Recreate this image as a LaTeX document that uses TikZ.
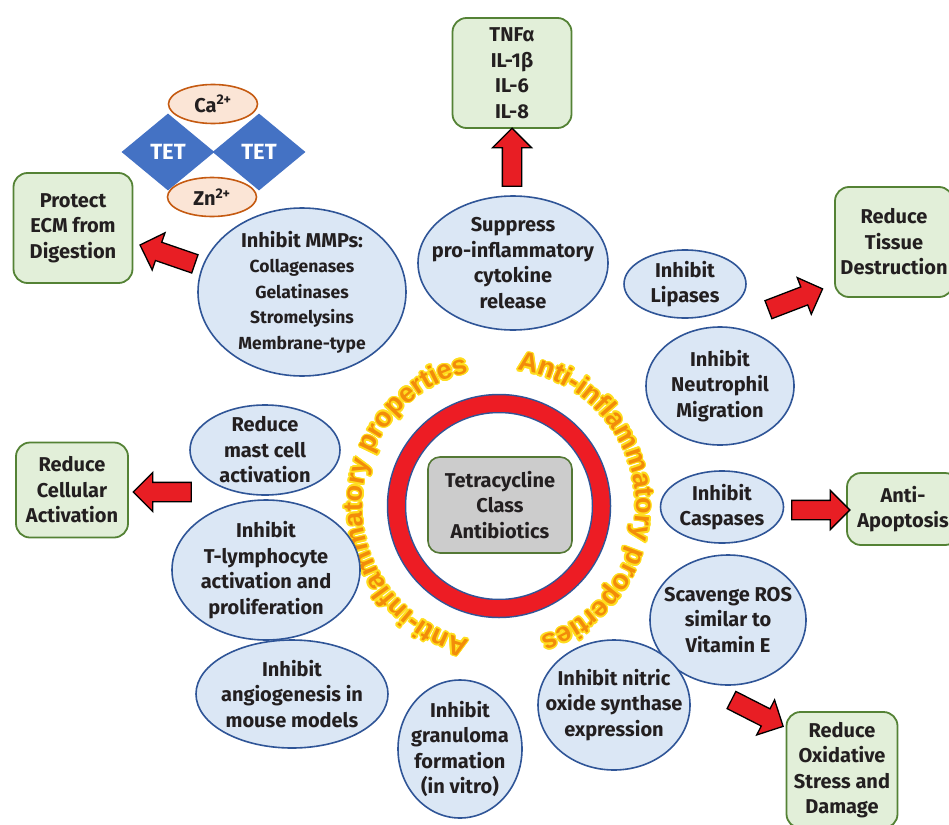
\documentclass[tikz,border=0pt]{standalone}
\usepackage{fontspec}
\setmainfont{Fira Sans}
\newfontfamily\ringfont{Liberation Sans}
\usepackage{xcolor}
\definecolor{boxfill}{RGB}{226,239,217}
\definecolor{boxline}{RGB}{84,130,53}
\definecolor{bubblefill}{RGB}{219,231,245}
\definecolor{bubbleline}{RGB}{47,85,151}
\definecolor{tetblue}{RGB}{68,114,196}
\definecolor{ionfill}{RGB}{251,229,214}
\definecolor{ionline}{RGB}{197,90,17}
\definecolor{arrowred}{RGB}{232,30,36}
\definecolor{ringred}{RGB}{237,28,36}
\definecolor{ringblue}{RGB}{47,85,151}
\definecolor{corefill}{RGB}{204,204,204}
\definecolor{coreline}{RGB}{84,120,53}
\definecolor{inkdark}{RGB}{35,31,32}
\definecolor{ringorange}{RGB}{242,140,10}
\definecolor{glowyellow}{RGB}{255,221,30}
\usetikzlibrary{shapes.geometric,shapes.arrows,decorations.text}
\newcommand{\boxfont}{\bfseries\fontsize{20}{25.5}\selectfont}
\newcommand{\listfont}{\bfseries\fontsize{17.5}{22.5}\selectfont}
\newcommand{\ringstyle}{\ringfont\bfseries\fontsize{27}{27}\selectfont}

\begin{document}
\begin{tikzpicture}[x=1pt, y=-1pt,
  every node/.style={text=inkdark},
  outcome/.style={draw=boxline, fill=boxfill, line width=1.8pt, rounded corners=14pt, inner sep=2pt, align=center, font=\boxfont},
  bubble/.style={ellipse, draw=bubbleline, fill=bubblefill, line width=1.6pt, inner sep=0pt},
  bubbletext/.style={align=center, font=\boxfont, inner sep=0pt},
  ion/.style={ellipse, draw=ionline, fill=ionfill, line width=1.6pt, inner sep=0pt, minimum width=89, minimum height=39, font=\boxfont},
  tet/.style={diamond, fill=tetblue, inner sep=0pt, minimum width=93, minimum height=77, text=white, font=\bfseries\fontsize{22}{22}\selectfont},
  fatarrow/.style={single arrow, draw=black, fill=arrowred, line width=1.3pt, inner xsep=0pt, inner ysep=9pt, single arrow head extend=10pt, minimum height=58}]
  \useasboundingbox (0,0) rectangle (949,824);
  \clip (0,0) rectangle (949,824);

  %--- Centre ---
  \node[circle, draw=ringblue, line width=19.5pt, minimum size=205, inner sep=0pt] (ring) at (499,506) {};
  \draw[ringred, line width=16.5pt] (ring.center) circle[radius=102.5];
  \node[draw=coreline, fill=corefill, line width=1.6pt, rounded corners=12pt, minimum width=144, minimum height=96, align=center, font=\boxfont] (tetracycline) at (500,505) {Tetracycline\\Class\\Antibiotics};

  % curved captions (y up again inside), yellow copies first for the glow
  \begin{scope}[shift={(ring.center)}, x=1pt, y=1pt]
    \foreach \a in {0,30,...,330} {
      \begin{scope}[shift={(\a:1.6)}]
        \path[decorate, decoration={text along path, text={|\ringstyle\color{glowyellow}|Anti-inflammatory properties}, text align=center}]
          (270:137) arc[start angle=270, end angle=90, radius=137];
        \path[decorate, decoration={text along path, text={|\ringstyle\color{glowyellow}|Anti-inflammatory properties}, text align=center}]
          (95:137) arc[start angle=95, end angle=-85, radius=137];
      \end{scope}
    }
    \path[decorate, decoration={text along path, text={|\ringstyle\color{ringorange}|Anti-inflammatory properties}, text align=center}]
      (270:137) arc[start angle=270, end angle=90, radius=137];
    \path[decorate, decoration={text along path, text={|\ringstyle\color{ringorange}|Anti-inflammatory properties}, text align=center}]
      (95:137) arc[start angle=95, end angle=-85, radius=137];
  \end{scope}

  %--- Chelation ---
  \node[ion] (calcium) at (213,104) {Ca\textsuperscript{2+}};
  \node[tet] (tetleft) at (168,152) {TET};
  \node[tet] (tetright) at (259,152) {TET};
  \node[ion] (zinc) at (212,197) {Zn\textsuperscript{2+}};

  %--- Properties ---
  \node[bubble, minimum width=190, minimum height=134] (suppress) at (513,263) {};
  \node[bubbletext] (suppresstext) at (suppress) {Suppress\\pro-inflammatory\\cytokine\\release};
  \node[bubble, minimum width=208, minimum height=168] (mmp) at (302,292) {};
  \node[bubbletext] (mmptext) at (mmp) {Inhibit MMPs:\\\listfont Collagenases\\\listfont Gelatinases\\\listfont Stromelysins\\\listfont Membrane-type};
  \node[bubble, minimum width=122, minimum height=68] (lipases) at (685,284) {};
  \node[bubbletext] (lipasestext) at (lipases) {Inhibit\\Lipases};
  \node[bubble, minimum width=148, minimum height=118] (neutrophil) at (720,386) {};
  \node[bubbletext] (neutrophiltext) at (neutrophil) {Inhibit\\Neutrophil\\Migration};
  \node[bubble, minimum width=123, minimum height=72] (caspases) at (722,507) {};
  \node[bubbletext] (caspasestext) at (caspases) {Inhibit\\Caspases};
  \node[bubble, minimum width=156, minimum height=130] (ros) at (728,620) {};
  \node[bubbletext] (rostext) at (ros) {Scavenge ROS\\similar to\\Vitamin E};
  \node[bubble, minimum width=152, minimum height=130] (nitric) at (614,705) {};
  \node[bubbletext] (nitrictext) at (nitric) {Inhibit nitric\\oxide synthase\\expression};
  \node[bubble, minimum width=124, minimum height=138] (granuloma) at (460,749) {};
  \node[bubbletext] (granulomatext) at (granuloma) {Inhibit\\granuloma\\formation\\(in vitro)};
  \node[bubble, minimum width=192, minimum height=108] (angio) at (292,694) {};
  \node[bubbletext] (angiotext) at (angio) {Inhibit\\angiogenesis in\\mouse models};
  \node[bubble, minimum width=188, minimum height=140] (tcell) at (266,570) {};
  \node[bubbletext] (tcelltext) at (tcell) {Inhibit\\T-lymphocyte\\activation and\\proliferation};
  \node[bubble, minimum width=150, minimum height=90] (mast) at (265,450) {};
  \node[bubbletext] (masttext) at (mast) {Reduce\\mast cell\\activation};

  %--- Outcomes ---
  \node[outcome, minimum width=119, minimum height=110] (cytokines) at (512,73) {TNFα\\IL-1β\\IL-6\\IL-8};
  \node[outcome, minimum width=119, minimum height=110] (ecm) at (73,228) {Protect\\ECM from\\Digestion};
  \node[outcome, minimum width=118, minimum height=110] (tissue) at (894,242) {Reduce\\Tissue\\Destruction};
  \node[outcome, minimum width=112, minimum height=72] (apoptosis) at (903,509) {Anti-\\Apoptosis};
  \node[outcome, minimum width=111, minimum height=116] (oxidative) at (842,770) {Reduce\\Oxidative\\Stress and\\Damage};
  \node[outcome, minimum width=112, minimum height=95] (cellular) at (72,490) {Reduce\\Cellular\\Activation};

  %--- Block arrows ---
  \node[fatarrow, rotate=90] (tocytokines) at (512,162) {};
  \node[fatarrow, rotate=161] (toecm) at (172,256) {};
  \node[fatarrow, rotate=21] (totissue) at (791,301) {};
  \node[fatarrow] (toapoptosis) at (816,510) {};
  \node[fatarrow, rotate=-27] (tooxidative) at (753,711) {};
  \node[fatarrow, rotate=180] (tocellular) at (167,492) {};
\end{tikzpicture}
\end{document}
